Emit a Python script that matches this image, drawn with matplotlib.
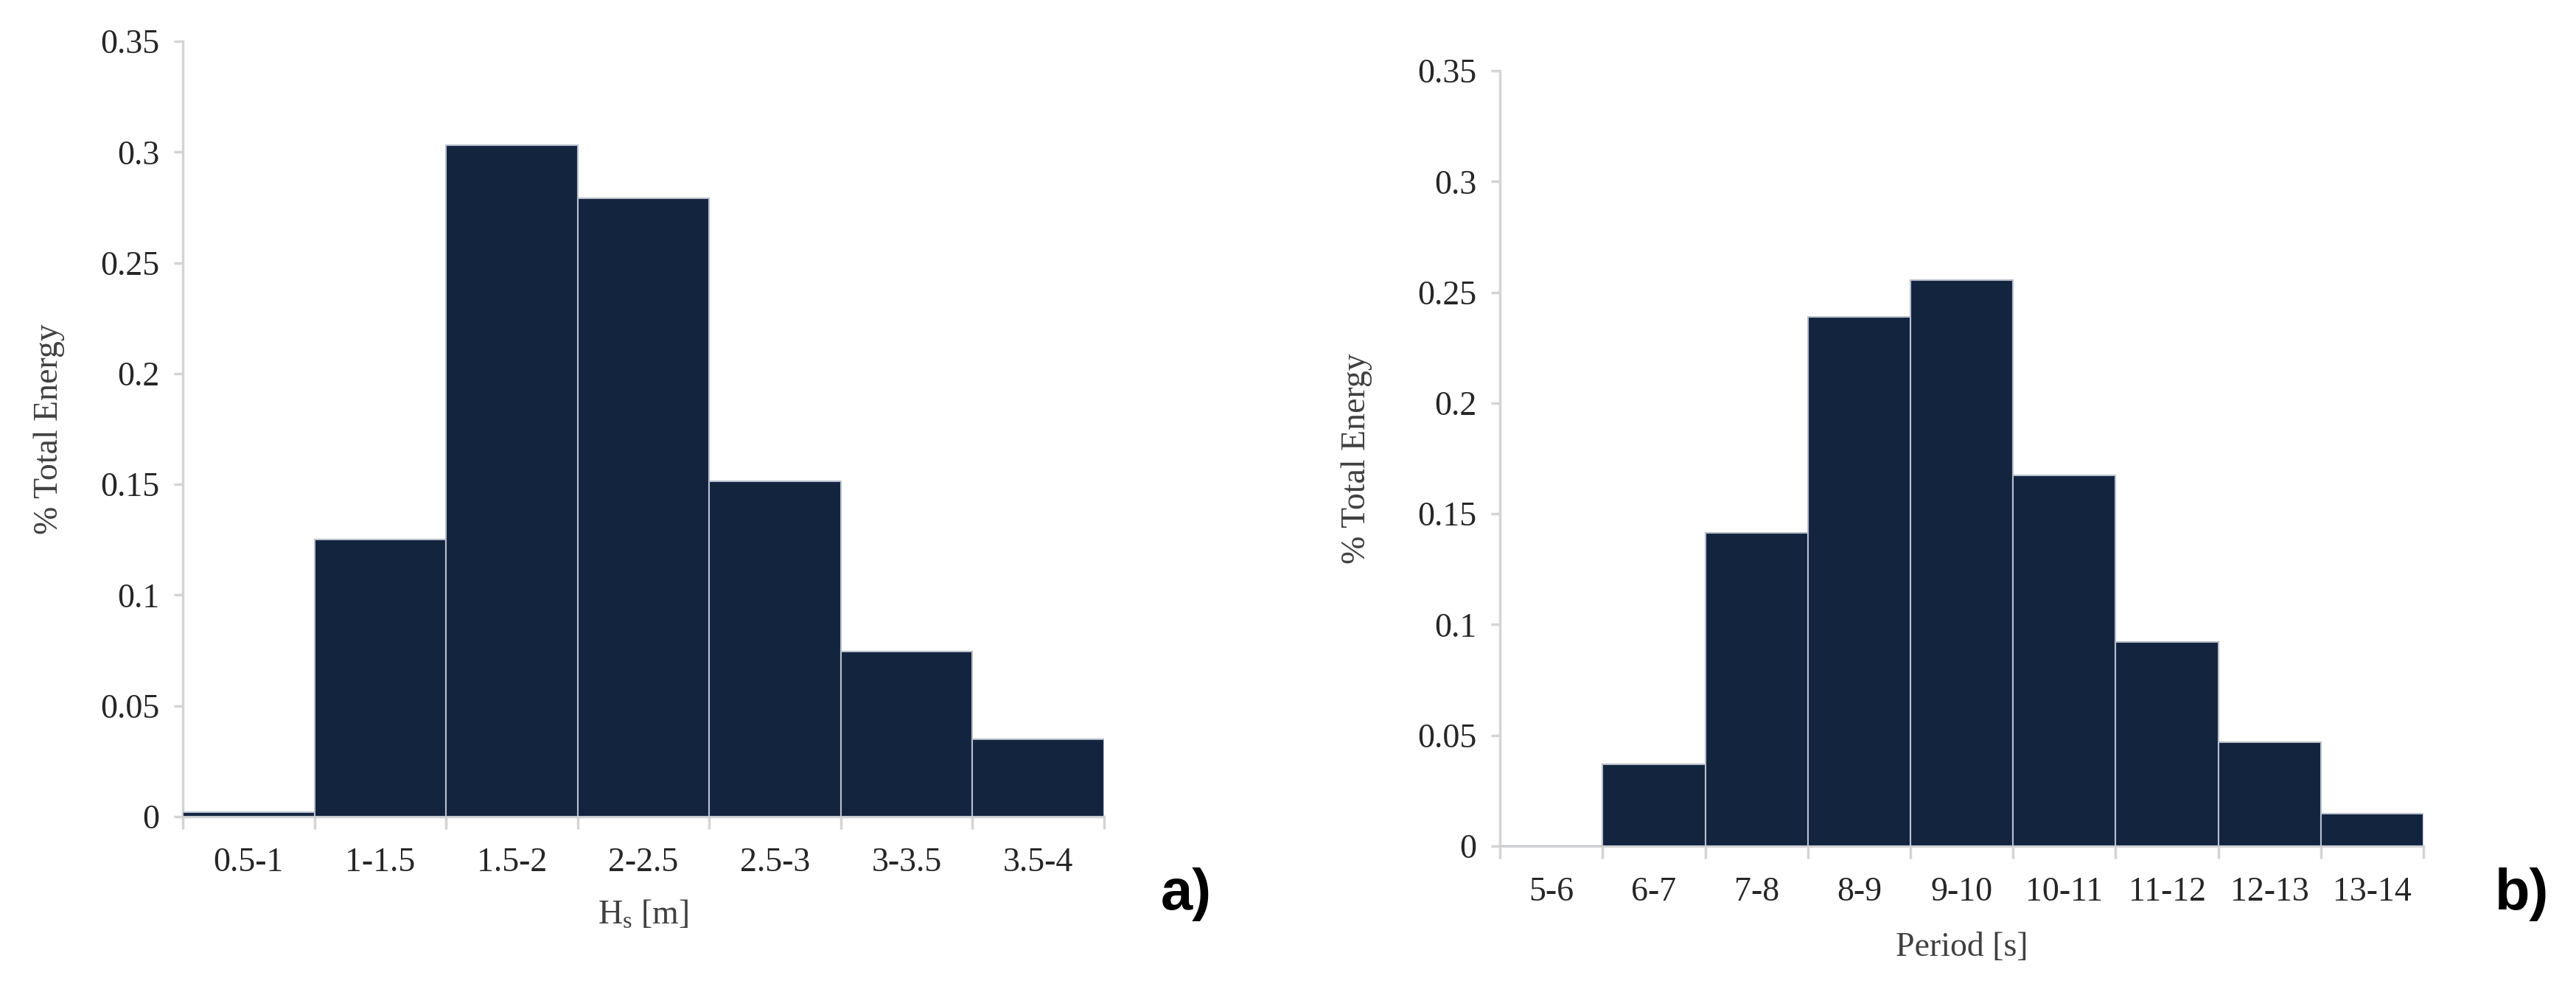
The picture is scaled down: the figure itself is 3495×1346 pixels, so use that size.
import numpy as np
import matplotlib
matplotlib.use("Agg")
import matplotlib.pyplot as plt

# data
hs_bins = ['0.5-1', '1-1.5', '1.5-2', '2-2.5', '2.5-3', '3-3.5', '3.5-4']
hs_energy = [0.002, 0.125, 0.303, 0.279, 0.1515, 0.0745, 0.035]

tp_bins = ['5-6', '6-7', '7-8', '8-9', '9-10', '10-11', '11-12', '12-13', '13-14']
tp_energy = [0.0, 0.037, 0.1415, 0.239, 0.2555, 0.1675, 0.092, 0.047, 0.0148]

y_ticks = [0, 0.05, 0.1, 0.15, 0.2, 0.25, 0.3, 0.35]
y_ticklabels = ['0', '0.05', '0.1', '0.15', '0.2', '0.25', '0.3', '0.35']

plt.rcParams['font.family'] = ['Liberation Serif', 'DejaVu Serif']
plt.rcParams['mathtext.fontset'] = 'custom'
plt.rcParams['mathtext.rm'] = 'Liberation Serif'
plt.rcParams['mathtext.it'] = 'Liberation Serif:italic'

bar_color = '#13243f'
edge_color = '#b9c0cc'
axis_color = '#d4d4d4'
text_color = '#262626'

fig = plt.figure(figsize=(34.95, 13.46), dpi=100)


def draw_hist(ax, cats, vals, xlabel, xlab_y, ylab_x):
    n = len(cats)
    x = np.arange(n) + 0.5
    ax.bar(x, vals, width=1.0, color=bar_color, edgecolor=edge_color,
           linewidth=1.5, zorder=3)
    ax.set_xlim(0, n)
    ax.set_ylim(0, 0.35)

    for s in ['top', 'right']:
        ax.spines[s].set_visible(False)
    for s in ['left', 'bottom']:
        ax.spines[s].set_color(axis_color)
        ax.spines[s].set_linewidth(2.5)
    ax.spines['bottom'].set_zorder(2)

    # bin edges get the tick marks, centers get the labels
    ax.set_xticks(np.arange(n + 1))
    ax.set_xticklabels([])
    ax.set_xticks(x, minor=True)
    ax.set_xticklabels(cats, minor=True)
    ax.tick_params(axis='x', which='major', length=12, width=2.5,
                   color=axis_color)
    ax.tick_params(axis='x', which='minor', length=0, pad=30,
                   labelsize=33, labelcolor=text_color)

    ax.set_yticks(y_ticks)
    ax.set_yticklabels(y_ticklabels)
    ax.tick_params(axis='y', length=9, width=2.5, color=axis_color,
                   pad=14, labelsize=33, labelcolor=text_color)

    ax.set_xlabel(xlabel, fontsize=33, color='#404040')
    ax.xaxis.set_label_coords(0.5, xlab_y)
    ax.xaxis.label.set_va('center')
    ax.set_ylabel('% Total Energy', fontsize=33, color='#404040')
    ax.yaxis.set_label_coords(ylab_x, 0.5)
    ax.yaxis.label.set_va('center')


ax1 = fig.add_axes([0.0710, 0.1768, 0.3576, 0.7816])
draw_hist(ax1, hs_bins, hs_energy, r'H$_\mathrm{s}$ [m]', -0.127, -0.145)

ax2 = fig.add_axes([0.5823, 0.1471, 0.3585, 0.7816])
draw_hist(ax2, tp_bins, tp_energy, 'Period [s]', -0.131, -0.155)

fig.text(1609 / 3495, 1 - 1213 / 1346, 'a)', fontsize=56, fontweight='bold',
         family=['Liberation Sans', 'DejaVu Sans'], ha='center', va='center')
fig.text(3422 / 3495, 1 - 1213 / 1346, 'b)', fontsize=56, fontweight='bold',
         family=['Liberation Sans', 'DejaVu Sans'], ha='center', va='center')

plt.savefig('out.png', dpi=100, facecolor='white')
